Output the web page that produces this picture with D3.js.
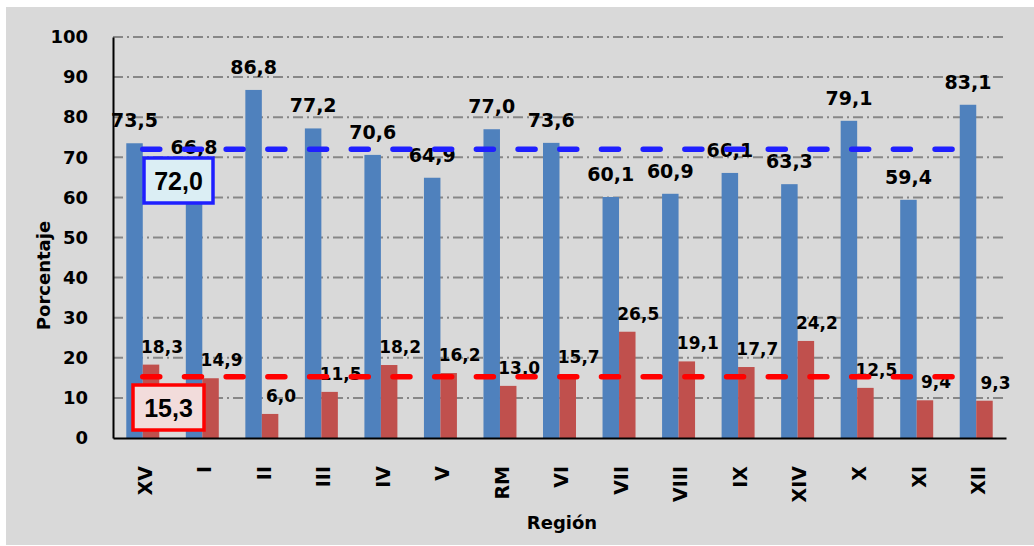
<!DOCTYPE html>
<html>
<head>
<meta charset="utf-8">
<script src="https://cdn.jsdelivr.net/npm/d3@7"></script>
<style>
  body { margin: 0; background: #fff; }
  text { font-family: 'DejaVu Sans', sans-serif; font-weight: bold; fill: #000; }
</style>
</head>
<body>
<div class="canvas"></div>
<script>
// data
const regiones = ['XV', 'I', 'II', 'III', 'IV', 'V', 'RM', 'VI', 'VII', 'VIII', 'IX', 'XIV', 'X', 'XI', 'XII'];
const serieAzul = [73.5, 66.8, 86.8, 77.2, 70.6, 64.9, 77.0, 73.6, 60.1, 60.9, 66.1, 63.3, 79.1, 59.4, 83.1];
const serieRoja = [18.3, 14.9, 6.0, 11.5, 18.2, 16.2, 13.0, 15.7, 26.5, 19.1, 17.7, 24.2, 12.5, 9.4, 9.3];
const promedioAzul = 72.0;
const promedioRojo = 15.3;
const yTicks = [0, 10, 20, 30, 40, 50, 60, 70, 80, 90, 100];

const dims = { width: 1034, height: 546 };
const plot = { left: 113, right: 1006, top: 37, bottom: 438 };

const svg = d3.select('.canvas')
    .append('svg')
    .attr('width', dims.width)
    .attr('height', dims.height);

// chart background
svg.append('rect')
    .attr('x', 6).attr('y', 7)
    .attr('width', dims.width - 6)
    .attr('height', dims.height - 8)
    .attr('fill', '#d9d9d9');

const locale = d3.formatLocale({ decimal: ',', thousands: '.', grouping: [3], currency: ['', ''] });
const fmt = locale.format('.1f');

const x0 = d3.scaleBand()
    .domain(regiones)
    .range([plot.left, plot.right])
    .paddingInner(0.446)
    .paddingOuter(0.223);

const x1 = d3.scaleBand()
    .domain(['azul', 'roja'])
    .range([0, x0.bandwidth()]);

const y = d3.scaleLinear()
    .domain([0, 100])
    .range([plot.bottom, plot.top]);

// gridlines
svg.append('g')
    .selectAll('line')
    .data(yTicks.filter(t => t > 0))
    .enter().append('line')
        .attr('x1', plot.left).attr('x2', plot.right)
        .attr('y1', d => y(d)).attr('y2', d => y(d))
        .attr('stroke', '#878787')
        .attr('stroke-width', 2)
        .attr('stroke-dasharray', '10,4,2,4');

// y axis
const yAxis = d3.axisLeft(y).tickValues(yTicks).tickSize(0).tickPadding(25);
const yG = svg.append('g')
    .attr('transform', `translate(${plot.left},0)`)
    .call(yAxis);
yG.select('.domain').attr('stroke', '#000').attr('stroke-width', 2);
yG.selectAll('text')
    .style('font-size', '18px');

// bars
const grupos = svg.append('g')
    .selectAll('g')
    .data(regiones)
    .enter().append('g')
        .attr('transform', d => `translate(${x0(d)},0)`);

grupos.append('rect')
    .attr('x', x1('azul'))
    .attr('width', x1.bandwidth())
    .attr('y', (d, i) => y(serieAzul[i]))
    .attr('height', (d, i) => y(0) - y(serieAzul[i]))
    .attr('fill', '#4f81bd');

grupos.append('rect')
    .attr('x', x1('roja'))
    .attr('width', x1.bandwidth())
    .attr('y', (d, i) => y(serieRoja[i]))
    .attr('height', (d, i) => y(0) - y(serieRoja[i]))
    .attr('fill', '#c0504d');

// x axis
const xAxis = d3.axisBottom(x0).tickSize(0).tickPadding(0);
const xG = svg.append('g')
    .attr('transform', `translate(0,${plot.bottom})`)
    .call(xAxis);
xG.select('.domain').attr('stroke', '#000').attr('stroke-width', 2);
xG.selectAll('text')
    .style('font-size', '19px')
    .attr('text-anchor', 'end')
    .attr('transform', 'translate(2,28) rotate(-90)')
    .attr('y', 0)
    .attr('dy', '0.36em');

// average lines, from the first region to the last
const centros = [regiones[0], regiones[regiones.length - 1]];
[[promedioAzul, '#1f1fff'], [promedioRojo, '#ff0000']].forEach(([v, c]) => {
    svg.append('path')
        .datum(centros)
        .attr('d', d3.line().x(d => x0(d) + x0.bandwidth() / 2).y(() => y(v)))
        .attr('fill', 'none')
        .attr('stroke', c)
        .attr('stroke-width', 5.5)
        .attr('stroke-linecap', 'round')
        .attr('stroke-dasharray', '17,24.7');
});

// value labels
grupos.append('text')
    .attr('x', x1('azul') + x1.bandwidth() / 2)
    .attr('y', (d, i) => y(serieAzul[i]) - 16)
    .attr('text-anchor', 'middle')
    .style('font-size', '19px')
    .text((d, i) => fmt(serieAzul[i]));

grupos.append('text')
    .attr('x', x1('roja') + x1.bandwidth() / 2 + 11)
    .attr('y', (d, i) => y(serieRoja[i]) - 12)
    .attr('text-anchor', 'middle')
    .style('font-size', '17px')
    .text((d, i) => fmt(serieRoja[i]));

// average boxes
const cajas = [
    { v: promedioAzul, x: 144, y: 158, w: 69, h: 45, stroke: '#1f1fff', fill: '#dbeef4' },
    { v: promedioRojo, x: 133, y: 385, w: 71, h: 45, stroke: '#ff0000', fill: '#f2dcdb' }
];
cajas.forEach(b => {
    svg.append('rect')
        .attr('x', b.x).attr('y', b.y)
        .attr('width', b.w).attr('height', b.h)
        .attr('fill', b.fill)
        .attr('stroke', b.stroke)
        .attr('stroke-width', 3.5);
    svg.append('text')
        .attr('x', b.x + b.w / 2)
        .attr('y', b.y + b.h / 2)
        .attr('dy', '0.36em')
        .attr('text-anchor', 'middle')
        .style('font-family', "'Liberation Sans', sans-serif")
        .style('font-size', '25px')
        .text(fmt(b.v));
});

// axis titles
svg.append('text')
    .attr('transform', `translate(50,${(plot.top + plot.bottom) / 2 + 38}) rotate(-90)`)
    .attr('text-anchor', 'middle')
    .style('font-size', '18px')
    .text('Porcentaje');

svg.append('text')
    .attr('x', 562)
    .attr('y', 529)
    .attr('text-anchor', 'middle')
    .style('font-size', '18px')
    .text('Región');
</script>
</body>
</html>
